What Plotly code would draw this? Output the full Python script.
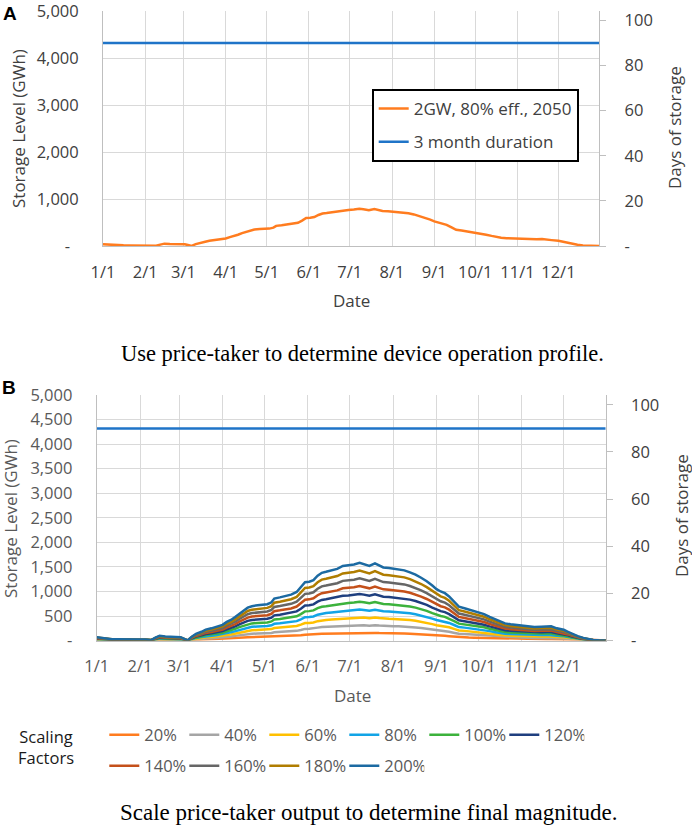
import plotly.graph_objects as go

W, H = 692, 827

# ---------------- data ----------------
dates = [
    "01-01","01-04","01-08","01-12","01-16","01-20","01-24","01-28",
    "02-01","02-05","02-09","02-12","02-15","02-19","02-23","02-27",
    "03-02","03-05","03-07","03-10","03-13","03-17","03-20","03-24","03-28",
    "04-01","04-04","04-07","04-10","04-13","04-16","04-19","04-22","04-26","04-30",
    "05-03","05-06","05-08","05-12","05-16","05-20","05-24","05-27","05-30",
    "06-02","06-05","06-08","06-11","06-14","06-18","06-22","06-26","06-30",
    "07-04","07-08","07-11","07-15","07-19","07-22","07-25","07-29",
    "08-01","08-05","08-09","08-13","08-17","08-21","08-25","08-29",
    "09-01","09-04","09-07","09-10","09-14","09-17","09-21","09-24","09-28",
    "10-01","10-05","10-09","10-13","10-16","10-20","10-24","10-28",
    "11-01","11-05","11-10","11-15","11-19","11-22","11-26",
    "12-01","12-04","12-07","12-11","12-15","12-19","12-22","12-26","12-31",
]
storage_gwh = [
    35, 28, 22, 15, 14, 12, 8, 5,
    10, 12, 6, 30, 50, 42, 38, 40,
    35, 15, 2, 40, 68, 90, 112, 125, 140,
    160, 190, 210, 240, 275, 305, 335, 350, 360, 362,
    370, 390, 428, 440, 455, 468, 495, 540, 595,
    600, 615, 660, 690, 700, 718, 730, 760, 765,
    775, 792, 780, 760, 786, 765, 745, 738,
    731, 725, 715, 695, 672, 640, 605, 560,
    524, 500, 483, 450, 390, 345, 330, 317, 300,
    290, 270, 241, 215, 193, 175, 166, 160,
    152, 145, 138, 142, 148, 145, 125,
    110, 90, 69, 45, 28, 12, 7, 3, 0,
]
year = "2050"
duration_days = 90          # 3 month duration
power_gw = 2                # 2 GW device -> 48 GWh per day
scaling_factors = [0.2, 0.4, 0.6, 0.8, 1.0, 1.2, 1.4, 1.6, 1.8, 2.0]
scaling_labels = ["20%", "40%", "60%", "80%", "100%", "120%", "140%", "160%", "180%", "200%"]
scaling_colors = ["#FF7C1F", "#A5A5A5", "#FFC000", "#12A4E6", "#3CB23C", "#1F3F7F",
                  "#C4501A", "#666666", "#B07D00", "#1C6AA2"]
y_ticks_a = [0, 1000, 2000, 3000, 4000, 5000]
y_ticks_b = [0, 500, 1000, 1500, 2000, 2500, 3000, 3500, 4000, 4500, 5000]
day_ticks = [0, 20, 40, 60, 80, 100]

x_dates = [f"{year}-{d}" for d in dates]
x_span = [f"{year}-01-01", f"{year}-12-31"]
gwh_per_day = power_gw * 24
ymax = 5000
daymax = ymax / gwh_per_day

def fmt(v, zero="-"):
    return zero if v == 0 else f"{v:,}"

def px_x(p):
    return p / W

def px_y(p):
    return 1 - p / H

fig = go.Figure()

# ---------- Panel A ----------
fig.add_trace(go.Scatter(x=x_dates, y=storage_gwh, mode="lines", name="2GW, 80% eff., 2050",
                         line=dict(color="#FF7C1F", width=2.5), xaxis="x", yaxis="y",
                         legend="legend", legendgroup="a1"))
fig.add_trace(go.Scatter(x=x_span, y=[duration_days, duration_days], mode="lines",
                         name="3 month duration", line=dict(color="#1F74C8", width=2.5),
                         xaxis="x", yaxis="y2", legend="legend", legendgroup="a2"))

# ---------- Panel B ----------
fig.add_trace(go.Scatter(x=x_span, y=[duration_days, duration_days], mode="lines",
                         name="3 month duration", line=dict(color="#1F74C8", width=2.5),
                         xaxis="x2", yaxis="y4", showlegend=False))
for i, (f, lab, col) in enumerate(zip(scaling_factors, scaling_labels, scaling_colors)):
    fig.add_trace(go.Scatter(x=x_dates, y=[v * f for v in storage_gwh], mode="lines", name=lab,
                             line=dict(color=col, width=2.5), xaxis="x2", yaxis="y3",
                             legend="legend2" if i < 6 else "legend3"))

grid = "#D9D9D9"
axl = "#BFBFBF"
font = "Open Sans"
dark = "#404040"
gray = "#595959"
nb = "\u00a0"

def xax(domain, anchor, color):
    return dict(domain=domain, anchor=anchor, type="date", range=x_span,
                tick0=f"{year}-01-01", dtick="M1", tickformat="%-m/%-d",
                showgrid=True, gridcolor=grid, gridwidth=1, automargin=False,
                showline=True, linecolor=axl, linewidth=1, ticks="",
                ticklabelstandoff=11, ticklabeloverflow="allow",
                tickfont=dict(family=font, size=16.5, color=color), zeroline=False)

def yleft(domain, anchor, ticks, color, zero):
    return dict(domain=domain, anchor=anchor, range=[0, ymax], tickvals=ticks,
                ticktext=[fmt(t, zero) for t in ticks], showgrid=True, gridcolor=grid,
                showline=True, linecolor=axl, zeroline=False, ticks="", automargin=False,
                ticklabelstandoff=20, ticklabeloverflow="allow",
                tickfont=dict(family=font, size=16.5, color=color))

def yright(overlay, anchor, color):
    return dict(overlaying=overlay, anchor=anchor, side="right", range=[0, daymax],
                tickvals=day_ticks, ticktext=[fmt(t) for t in day_ticks], automargin=False,
                showgrid=False, showline=True, linecolor=axl, zeroline=False,
                ticks="outside", ticklen=6, tickcolor=axl, ticklabelstandoff=15,
                ticklabeloverflow="allow",
                tickfont=dict(family=font, size=16.5, color=color))

xa_dom = [px_x(103), px_x(599.3)]
ya_dom = [px_y(246), px_y(11)]
xb_dom = [px_x(96.7), px_x(605.7)]
yb_dom = [px_y(640.6), px_y(395)]

leg_row = dict(orientation="h", font=dict(family=font, size=16.5, color=gray),
               itemwidth=30, entrywidth=35, entrywidthmode="pixels",
               bgcolor="rgba(0,0,0,0)", xanchor="left", yanchor="middle")

fig.update_layout(
    template="none",
    width=W, height=H, autosize=False,
    margin=dict(l=0, r=0, t=0, b=0, pad=0, autoexpand=False),
    paper_bgcolor="white", plot_bgcolor="white",
    font=dict(family=font, color=dark),
    xaxis=xax(xa_dom, "y", dark),
    yaxis=yleft(ya_dom, "x", y_ticks_a, dark, "-" + nb + nb),
    yaxis2=yright("y", "x", dark),
    xaxis2=xax(xb_dom, "y3", gray),
    yaxis3=yleft(yb_dom, "x2", y_ticks_b, gray, "-"),
    yaxis4=yright("y3", "x2", dark),
    legend=dict(x=px_x(371.7), y=px_y(89), xanchor="left", yanchor="top",
                bgcolor="white", bordercolor="black", borderwidth=2,
                font=dict(family=font, size=17, color=dark), itemwidth=30,
                traceorder="grouped", tracegroupgap=8),
    legend2=dict(x=px_x(104.3), y=px_y(735), **leg_row),
    legend3=dict(x=px_x(104.3), y=px_y(766), **leg_row),
)

ann = []
def add_text(text, x, y, size, color, fam=font, angle=0, xanchor="center", bold=False):
    ann.append(dict(text=f"<b>{text}</b>" if bold else text, x=px_x(x), y=px_y(y),
                    xref="paper", yref="paper", showarrow=False, xanchor=xanchor,
                    yanchor="middle", textangle=angle,
                    font=dict(family=fam, size=size, color=color)))

add_text("A", 1, 13, 19, "black", fam="Liberation Sans", xanchor="left", bold=True)
add_text("B", 0, 387, 19, "black", fam="Liberation Sans", xanchor="left", bold=True)
add_text("Storage Level (GWh)", 19, 129, 17, dark, angle=-90)
add_text("Days of storage", 674, 128, 17, dark, angle=-90)
add_text("Date", 351, 300, 17, dark)
add_text("Storage Level (GWh)", 10, 519, 17, gray, angle=-90)
add_text("Days of storage", 681, 516, 17, dark, angle=-90)
add_text("Date", 352, 695, 17, gray)
add_text("Scaling<br>Factors", 16, 747, 16.5, "#1A1A1A", xanchor="left")
add_text("Use price-taker to determine device operation profile.", 363, 353, 22.5, "black",
         fam="Liberation Serif")
add_text("Scale price-taker output to determine final magnitude.", 369, 812, 23, "black",
         fam="Liberation Serif")
fig.update_layout(annotations=ann)

fig.write_html("out.html", config={"displayModeBar": False},
               post_script="document.body.style.margin='0px';"
                           "document.documentElement.style.overflow='hidden';")
